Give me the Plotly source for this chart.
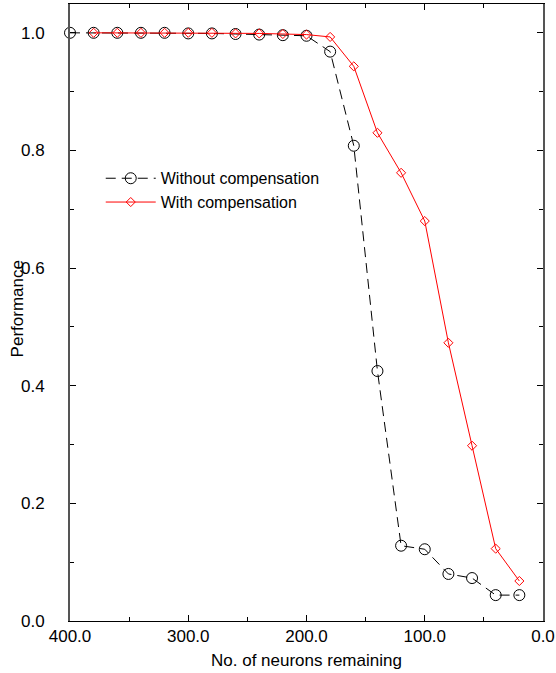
import plotly.graph_objects as go

x_without = [400, 380, 360, 340, 320, 300, 280, 260, 240, 220, 200, 180, 160, 140, 120, 100, 80, 60, 40, 20]
y_without = [1.0, 1.0, 1.0, 1.0, 1.0, 0.999, 0.999, 0.998, 0.997, 0.996, 0.995, 0.968, 0.808, 0.425, 0.128, 0.122, 0.080, 0.073, 0.044, 0.044]
x_with = [380, 360, 340, 320, 300, 280, 260, 240, 220, 200, 180, 160, 140, 120, 100, 80, 60, 40, 20]
y_with = [1.0, 1.0, 1.0, 1.0, 1.0, 1.0, 0.999, 0.999, 0.998, 0.997, 0.993, 0.943, 0.830, 0.762, 0.680, 0.473, 0.298, 0.123, 0.068]

x_ticks = [400, 300, 200, 100, 0]
x_ticklabels = ["400.0", "300.0", "200.0", "100.0", "0.0"]
y_ticks = [0, 0.2, 0.4, 0.6, 0.8, 1.0]
y_ticklabels = ["0.0", "0.2", "0.4", "0.6", "0.8", "1.0"]

fig = go.Figure()
fig.add_trace(go.Scatter(
    x=x_without, y=y_without, name="Without compensation", mode="lines+markers",
    line=dict(color="black", width=1, dash="10px,6px"),
    marker=dict(symbol="circle-open", size=11, color="black", line=dict(width=1)),
    cliponaxis=False,
))
fig.add_trace(go.Scatter(
    x=x_with, y=y_with, name="With compensation", mode="lines+markers",
    line=dict(color="red", width=1),
    marker=dict(symbol="diamond-open", size=7, color="red", line=dict(width=1)),
    cliponaxis=False,
))

fig.update_layout(
    width=556, height=673,
    margin=dict(l=70, r=13, t=4, b=52, autoexpand=False),
    paper_bgcolor="white", plot_bgcolor="white",
    font=dict(family="Liberation Sans, Arial, sans-serif", size=17, color="black"),
    showlegend=True,
    legend=dict(x=0.065, y=0.745, xanchor="left", yanchor="top", bgcolor="rgba(0,0,0,0)",
                font=dict(size=16), itemwidth=50, tracegroupgap=0),
    annotations=[
        dict(text="Performance", xref="paper", yref="paper", x=0, y=0.505,
             xanchor="center", yanchor="middle", xshift=-53, textangle=-90,
             showarrow=False, font=dict(size=17)),
        dict(text="No. of neurons remaining", xref="paper", yref="paper", x=0.5, y=0,
             xanchor="center", yanchor="middle", yshift=-39,
             showarrow=False, font=dict(size=17)),
    ],
)
fig.update_xaxes(
    range=[400, 0], tickvals=x_ticks, ticktext=x_ticklabels,
    ticks="inside", ticklen=6, tickcolor="black", showline=True, linecolor="black", linewidth=1,
    mirror="ticks", showgrid=False, zeroline=False, automargin=False,
    minor=dict(tickvals=[350, 250, 150, 50], ticks="inside", ticklen=4, tickcolor="black"),
    ticklabelstandoff=0,
)
fig.update_yaxes(
    range=[0, 1.049], tickvals=y_ticks, ticktext=y_ticklabels,
    ticks="inside", ticklen=6, tickcolor="black", showline=True, linecolor="#555555", linewidth=2,
    mirror="ticks", showgrid=False, zeroline=False, automargin=False,
    minor=dict(tickvals=[0.1, 0.3, 0.5, 0.7, 0.9], ticks="inside", ticklen=4, tickcolor="black"),
    ticklabelstandoff=20,
)

fig.write_html("out.html", config={"displayModeBar": False},
               post_script="document.body.style.margin='0';")
